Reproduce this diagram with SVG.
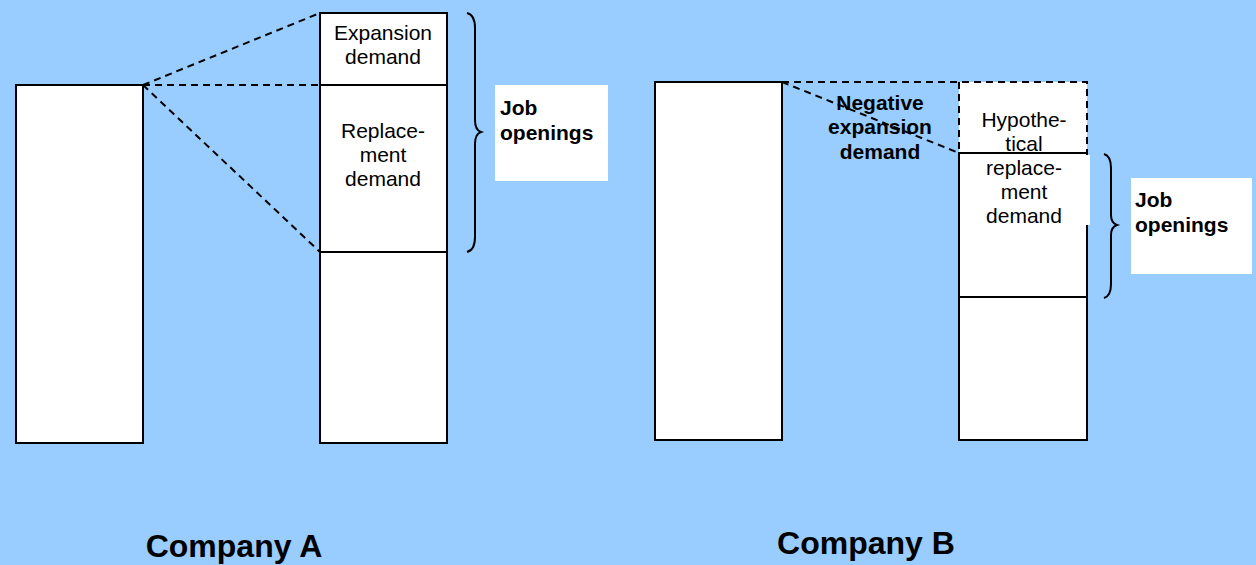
<svg xmlns="http://www.w3.org/2000/svg" width="1256" height="565" viewBox="0 0 1256 565">
<style>
.bar{fill:#fff;stroke:#000;stroke-width:2}
.ln{stroke:#000;stroke-width:2;fill:none}
.dash{stroke:#000;stroke-width:2;fill:none;stroke-dasharray:7,5}
.t{font-family:"Liberation Sans",Arial,sans-serif;font-size:21px;fill:#000;text-anchor:middle}
.b{font-family:"Liberation Sans",Arial,sans-serif;font-size:21px;font-weight:bold;fill:#000}
.h{font-family:"Liberation Sans",Arial,sans-serif;font-size:32px;font-weight:bold;fill:#000;text-anchor:middle}
</style>
<rect width="1256" height="565" fill="#99CCFF"/>
<g id="connectors">
<line class="dash" x1="143" y1="85" x2="320" y2="13"/>
<line class="dash" x1="143" y1="85" x2="320" y2="85"/>
<line class="dash" x1="143" y1="85" x2="320" y2="252"/>
<line class="dash" x1="782" y1="82" x2="959" y2="153"/>
</g>
<g id="companyA-left"><rect class="bar" x="16" y="85" width="127" height="358"/></g>
<g id="companyA-right">
<rect class="bar" x="320" y="13" width="127" height="430"/>
<line class="ln" x1="320" y1="85" x2="447" y2="85"/>
<line class="ln" x1="320" y1="252" x2="447" y2="252"/>
<text class="t" x="383" y="40">Expansion</text>
<text class="t" x="383" y="64">demand</text>
<text class="t" x="383" y="138">Replace-</text>
<text class="t" x="383" y="162">ment</text>
<text class="t" x="383" y="186">demand</text>
</g>
<g id="braceA"><path class="ln" d="M467,13 Q475,15 475,28 L475,120 Q475,130 481,132 Q475,134 475,144 L475,237 Q475,250 467,252"/></g>
<g id="jobA">
<rect x="495" y="85" width="113" height="96" fill="#fff"/>
<text class="b" x="500" y="115">Job</text>
<text class="b" x="500" y="140">openings</text>
</g>
<g id="companyB-left"><rect class="bar" x="655" y="82" width="127" height="358"/></g>
<g id="companyB-right">
<rect x="959" y="82" width="128" height="71" fill="#fff"/>
<path class="dash" d="M782,82 L1087,82 L1087,153 M959,82 L959,153"/>
<rect class="bar" x="959" y="153" width="128" height="287"/>
<line class="ln" x1="959" y1="297" x2="1087" y2="297"/>
<rect x="1000" y="155" width="90" height="70" fill="#fff"/>
<text class="t" x="1024" y="127">Hypothe-</text>
<text class="t" x="1024" y="151">tical</text>
<text class="t" x="1024" y="175">replace-</text>
<text class="t" x="1024" y="199">ment</text>
<text class="t" x="1024" y="223">demand</text>
</g>
<g id="negative">
<text class="b" x="880" y="110" text-anchor="middle">Negative</text>
<text class="b" x="880" y="134" text-anchor="middle">expansion</text>
<text class="b" x="880" y="159" text-anchor="middle">demand</text>
</g>
<g id="braceB"><path class="ln" d="M1104,154 Q1111,156 1111,168 L1111,215 Q1111,223 1117,225 Q1111,227 1111,235 L1111,284 Q1111,296 1104,298"/></g>
<g id="jobB">
<rect x="1131" y="178" width="121" height="96" fill="#fff"/>
<text class="b" x="1135" y="207">Job</text>
<text class="b" x="1135" y="232">openings</text>
</g>
<text class="h" x="234" y="557">Company A</text>
<text class="h" x="866" y="554">Company B</text>
</svg>
